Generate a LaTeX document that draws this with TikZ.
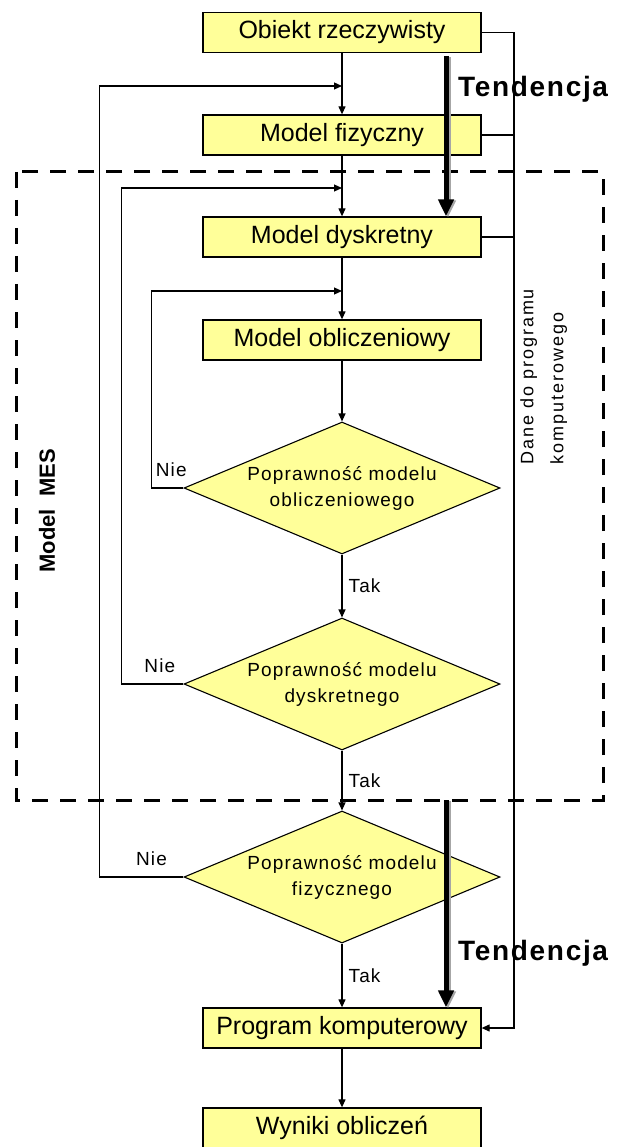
\documentclass[tikz,border=0pt]{standalone}
\usepackage{fontspec}
\setmainfont{Liberation Sans}
\newfontfamily\rozstrzel[LetterSpace=6]{Liberation Sans}
\newfontfamily\rozstrzelw[LetterSpace=11]{Liberation Sans}
\usepackage{tikz}
\usetikzlibrary{arrows.meta}
\usetikzlibrary{shapes.geometric,positioning,calc}
\definecolor{zolty}{RGB}{255,255,153}

\begin{document}
\begin{tikzpicture}[x=1pt,y=-1pt,
  blok/.style={draw=black,line width=1.3pt,fill=\colblok,minimum width=278pt,minimum height=40pt,inner sep=0pt,font=\fontsize{25}{30}\selectfont},
  decyzja/.style={diamond,draw=black,line width=1.1pt,fill=\colblok,aspect=2.4,minimum width=316pt,minimum height=132pt,inner sep=0pt,align=center,font=\rozstrzel\fontsize{19}{26}\selectfont},
  strzalka/.style={line width=1.2pt,-{Triangle[length=8pt,width=7pt]}},
  linia/.style={line width=1.2pt},
  tendencja/.style={line width=5pt,-{Triangle[length=17pt,width=15pt]}},
  etykieta/.style={font=\rozstrzel\fontsize{19}{22}\selectfont,inner sep=0pt}]

%Kolory i wymiary
\def \colblok{zolty}
\def \colcien{black!35}
\def \xs{342}
\def \xszyna{514}

\useasboundingbox (0,0) rectangle (617,1147);

%%% Obszar modelu MES %%%
\draw[line width=3pt,dash pattern=on 16pt off 12pt] (16,172) rectangle (603,800);
\node[rotate=90,font=\bfseries\fontsize{22}{26}\selectfont] (mes) at (47,511) {Model\ \ MES};

%Bloki
\node[blok] (obiekt) at (\xs,32.5) {Obiekt rzeczywisty};
\node[blok] (fizyczny) at (\xs,135) {Model fizyczny};
\node[blok] (dyskretny) at (\xs,237) {Model dyskretny};
\node[blok] (obliczeniowy) at (\xs,340) {Model obliczeniowy};
\node[decyzja] (pobl) at (\xs,488) {Poprawność modelu\\obliczeniowego};
\node[decyzja] (pdys) at (\xs,684) {Poprawność modelu\\dyskretnego};
\node[decyzja] (pfiz) at (\xs,877) {Poprawność modelu\\fizycznego};
\node[blok] (program) at (\xs,1028) {Program komputerowy};
\node[blok] (wyniki) at (\xs,1128) {Wyniki obliczeń};

%Punkty powrotu
\coordinate (w1) at (\xs,86);
\coordinate (w2) at (\xs,188);
\coordinate (w3) at (\xs,291);

%Przeplyw glowny
\draw[strzalka] (obiekt) -- (fizyczny);
\draw[strzalka] (fizyczny) -- (dyskretny);
\draw[strzalka] (dyskretny) -- (obliczeniowy);
\draw[strzalka] (obliczeniowy) -- (pobl);
\draw[strzalka] (pobl) -- node[etykieta,right=6pt]{Tak} (pdys);
\draw[strzalka] (pdys) -- node[etykieta,right=6pt]{Tak} (pfiz);
\draw[strzalka] (pfiz) -- node[etykieta,right=6pt]{Tak} (program);
\draw[strzalka] (program) -- (wyniki);

%Petle zwrotne
\draw[strzalka] (pobl.west) -- node[etykieta,pos=0.38,above=11pt]{Nie} ++(-32,0) |- (w3);
\draw[strzalka] (pdys.west) -- node[etykieta,pos=0.38,above=11pt]{Nie} ++(-62,0) |- (w2);
\draw[strzalka] (pfiz.west) -- node[etykieta,pos=0.38,above=11pt]{Nie} ++(-84,0) |- (w1);

%Dane do programu
\coordinate (szyna) at (\xszyna,1028);
\draw[strzalka] (obiekt.east) -| (szyna) -- (program.east);
\draw[linia] (fizyczny.east) -- (fizyczny.east -| szyna);
\draw[linia] (dyskretny.east) -- (dyskretny.east -| szyna);
\node[rotate=90,anchor=north west,align=left,inner sep=0pt,font=\rozstrzelw\fontsize{18}{30}\selectfont] (dane) at (520,465) {Dane do programu\\komputerowego};

%Tendencja (z cieniem)
\coordinate (t1) at (446,56);
\coordinate (t2) at (446,800);
\draw[tendencja,\colcien] ($(t1)+(2,1)$) -- ($(dyskretny.north -| t1)+(2,1)$);
\draw[tendencja,\colcien] ($(t2)+(2,1)$) -- ($(program.north -| t2)+(2,1)$);
\draw[tendencja] (t1) -- (dyskretny.north -| t1);
\draw[tendencja] (t2) -- (program.north -| t2);
\node[anchor=base west,inner sep=0pt,font=\rozstrzel\bfseries\fontsize{28}{32}\selectfont] (tend1) at (458,97) {Tendencja};
\node[anchor=base west,inner sep=0pt,font=\rozstrzel\bfseries\fontsize{28}{32}\selectfont] (tend2) at (458,960) {Tendencja};

\end{tikzpicture}
\end{document}
